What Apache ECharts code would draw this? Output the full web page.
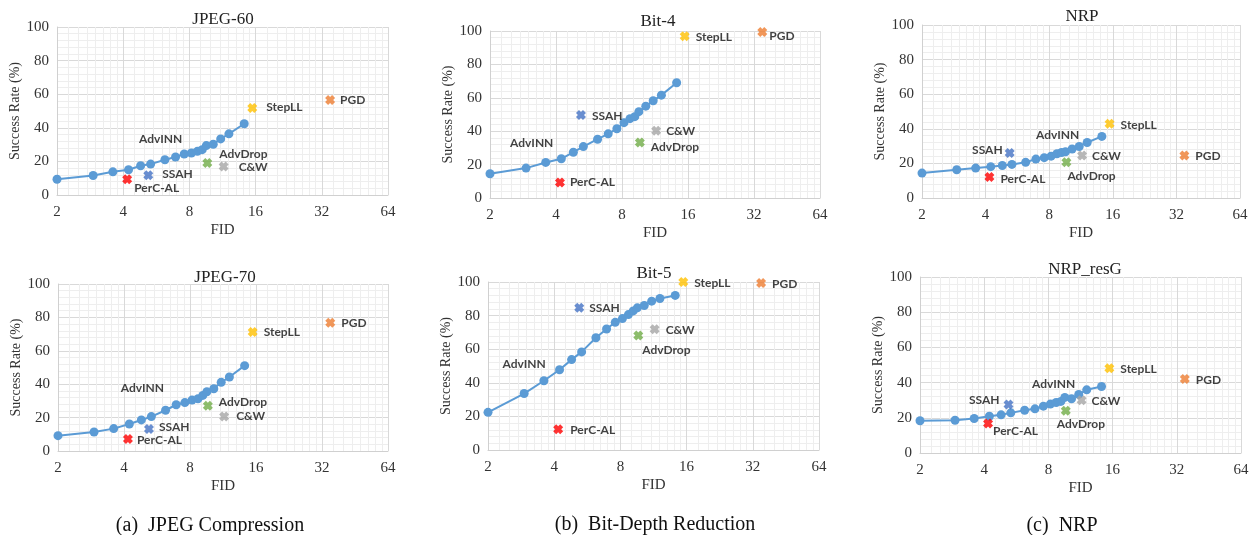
<!DOCTYPE html>
<html>
<head>
<meta charset="utf-8">
<script src="https://cdn.jsdelivr.net/npm/echarts@6/dist/echarts.min.js"></script>
<style>
  html, body { margin: 0; padding: 0; background: #fff; }
  #chart { width: 1256px; height: 535px; }
</style>
</head>
<body>
<div id="chart"></div>
<script>
// ---- data ----
const panelTitles = ['JPEG-60', 'JPEG-70', 'Bit-4', 'Bit-5', 'NRP', 'NRP_resG'];
const xTicks = [2, 4, 8, 16, 32, 64];
const captions = ['(a)  JPEG Compression', '(b)  Bit-Depth Reduction', '(c)  NRP'];

// AdvINN curve: FID of each point (same for every defense)
const advinnFid = [2, 2.92, 3.59, 4.23, 4.8, 5.33, 6.19, 6.92, 7.58, 8.17, 8.7, 9.15, 9.55, 10.27, 11.1, 12.1, 14.2];
const advinnJpeg60 = [9.4, 11.6, 13.8, 15, 17.4, 18.4, 21, 22.6, 24.4, 25, 26, 27, 29.4, 30.2, 33.4, 36.4, 42.4];
const advinnJpeg70 = [9.2, 11.4, 13.4, 16.2, 18.6, 20.6, 24.4, 27.7, 29, 30.5, 31.3, 33.3, 35.5, 37.3, 41.1, 44.3, 51.1];
const advinnBit4 = [14.5, 17.9, 21.3, 23.5, 27.4, 30.8, 35.2, 38.4, 41.5, 45.1, 47.5, 48.7, 51.7, 55, 58.2, 61.6, 69];
const advinnBit5 = [22.4, 33.6, 41.2, 47.8, 53.8, 58.4, 66.8, 72, 76, 78.2, 80.6, 82.8, 84.6, 86, 88.6, 90.2, 92];
const advinnNrp = [14.4, 16.3, 17.3, 18.1, 18.8, 19.4, 20.6, 22.5, 23.3, 24.2, 25.6, 26.3, 26.7, 28.3, 29.8, 32.1, 35.6];
const advinnNrpResG = [18.3, 18.6, 19.6, 20.9, 21.7, 22.8, 24.3, 25.1, 26.6, 27.8, 28.7, 29.3, 31.6, 30.8, 33.3, 35.9, 37.8];

// other attacks: one point each
const methodNames = ['PerC-AL', 'SSAH', 'AdvDrop', 'C&W', 'StepLL', 'PGD'];
const methodFid = [4.17, 5.2, 9.65, 11.45, 15.45, 34.9];
const methodJpeg60 = [9.4, 11.8, 19, 17, 51.8, 56.6];
const methodJpeg70 = [7.2, 13.2, 27.1, 20.6, 71.3, 76.8];
const methodBit4 = [9.3, 49.7, 33.2, 40.2, 96.8, 99.4];
const methodBit5 = [12.3, 84.6, 68.1, 71.9, 100, 99.4];
const methodNrp = [12.1, 26, 20.6, 24.6, 42.9, 24.6];
const methodNrpResG = [16.7, 27.6, 24, 30, 48.1, 42];

const advinnRates = [advinnJpeg60, advinnJpeg70, advinnBit4, advinnBit5, advinnNrp, advinnNrpResG];
const methodRates = [methodJpeg60, methodJpeg70, methodBit4, methodBit5, methodNrp, methodNrpResG];

// ---- layout / style ----
const grids = [
  { left: 57, top: 27, width: 331, height: 168 },
  { left: 58, top: 284, width: 330, height: 167 },
  { left: 490, top: 31, width: 330, height: 167 },
  { left: 488, top: 282, width: 331, height: 168 },
  { left: 922, top: 25, width: 318, height: 173 },
  { left: 920, top: 277, width: 321, height: 176 }
];
const titlePos = [[218, 6], [220, 264], [653, 8], [649, 260], [1077, 3], [1080, 256]];
const captionPos = [[205, 511], [650, 510], [1057, 511]];
// where the "AdvINN" text sits, in data units of each panel
const advinnTextAt = [[5.92, 33.4], [4.85, 37.5], [3.1, 32.8], [2.92, 51.1], [8.77, 36.5], [8.47, 39.2]];
// per panel, per method: [side, dx, dy]
const labelPlace = [
  [['right', 2, 9], ['right', 9, -1], ['right', 7, -9], ['right', 10, 1], ['right', 9, -1], ['right', 5, 0]],
  [['right', 4, 1], ['right', 5, -2], ['right', 6, -4], ['right', 7, 0], ['right', 6, 0], ['right', 6, 0]],
  [['right', 5, 0], ['right', 6, 1], ['right', 6, 5], ['right', 5, 0], ['right', 6, 1], ['right', 2, 4]],
  [['right', 7, 1], ['right', 5, 0], ['right', -1, 15], ['right', 6, 1], ['right', 6, 1], ['right', 6, 1]],
  [['right', 6, 2], ['left', -2, -3], ['right', -4, 14], ['right', 5, 1], ['right', 6, 1], ['right', 6, 1]],
  [['right', 0, 8], ['left', -4, -4], ['right', -14, 13], ['right', 5, 1], ['right', 6, 1], ['right', 6, 1]]
];
const methodColors = ['#FF0000', '#4472C4', '#70AD47', '#A5A5A5', '#FFC000', '#ED7D31'];
const lineBlue = '#5B9BD5';
const serif = '"Liberation Serif", "DejaVu Serif", serif';
const sans = 'Lato, "Open Sans", sans-serif';
// chunky "x" like the spreadsheet marker
const crossPath = 'path://M0,3 L3,0 L5,2 L7,0 L10,3 L8,5 L10,7 L7,10 L5,8 L3,10 L0,7 L2,5 Z';

const chart = echarts.init(document.getElementById('chart'));

const title = panelTitles.map((t, i) => ({
  text: t, left: titlePos[i][0], top: titlePos[i][1], textAlign: 'center',
  textStyle: { fontFamily: serif, fontSize: 17, fontWeight: 'normal', color: '#222' }
})).concat(captions.map((c, i) => ({
  text: c, left: captionPos[i][0], top: captionPos[i][1], textAlign: 'center',
  textStyle: { fontFamily: serif, fontSize: 20, fontWeight: 'normal', color: '#111' }
})));

const xAxis = grids.map((g, i) => ({
  type: 'log', logBase: 2, min: xTicks[0], max: xTicks[xTicks.length - 1], gridIndex: i,
  splitNumber: xTicks.length - 1,
  name: 'FID', nameLocation: 'middle', nameGap: 28,
  nameTextStyle: { fontFamily: serif, fontSize: 15, color: '#333' },
  axisLine: { show: true, lineStyle: { color: '#d0d0d0', width: 1 } },
  axisTick: { show: false },
  axisLabel: { fontFamily: serif, fontSize: 15, color: '#333', margin: 10 },
  splitLine: { show: true, lineStyle: { color: '#d9d9d9', width: 1 } },
  minorTick: { show: false, splitNumber: 8 },
  minorSplitLine: { show: true, lineStyle: { color: '#eeeeee', width: 1 } }
}));

const yAxis = grids.map((g, i) => ({
  type: 'value', min: 0, max: 100, interval: 20, gridIndex: i,
  name: 'Success Rate (%)', nameLocation: 'middle', nameGap: 34,
  nameTextStyle: { fontFamily: serif, fontSize: 14, color: '#333' },
  axisLine: { show: true, lineStyle: { color: '#d0d0d0', width: 1 } },
  axisTick: { show: false },
  axisLabel: { fontFamily: serif, fontSize: 15, color: '#333', margin: 8 },
  splitLine: { show: true, lineStyle: { color: '#d9d9d9', width: 1 } },
  minorTick: { show: false, splitNumber: 5 },
  minorSplitLine: { show: true, lineStyle: { color: '#eeeeee', width: 1 } }
}));

const series = [];
grids.forEach((g, i) => {
  series.push({
    type: 'line', xAxisIndex: i, yAxisIndex: i,
    data: advinnFid.map((f, k) => [f, advinnRates[i][k]]),
    symbol: 'circle', symbolSize: 9,
    lineStyle: { color: lineBlue, width: 2 },
    itemStyle: { color: lineBlue },
    z: 3
  });
  series.push({
    type: 'scatter', xAxisIndex: i, yAxisIndex: i, clip: false,
    symbol: crossPath, symbolSize: 10,
    data: methodNames.map((m, k) => ({
      name: m,
      value: [methodFid[k], methodRates[i][k]],
      itemStyle: { color: methodColors[k] },
      label: {
        show: true, formatter: m,
        position: labelPlace[i][k][0], distance: 0,
        offset: [labelPlace[i][k][1], labelPlace[i][k][2]]
      }
    })),
    label: { fontFamily: sans, fontSize: 12, fontWeight: 'bold', color: '#111' },
    z: 4
  });
  series.push({
    type: 'scatter', xAxisIndex: i, yAxisIndex: i, clip: false,
    symbolSize: 1, itemStyle: { color: 'rgba(0,0,0,0)' },
    data: [{ value: advinnTextAt[i] }],
    label: {
      show: true, formatter: 'AdvINN', position: 'inside',
      fontFamily: sans, fontSize: 12, fontWeight: 'bold', color: '#111'
    },
    z: 4
  });
});

chart.setOption({
  animation: false,
  backgroundColor: '#fff',
  title: title,
  grid: grids,
  xAxis: xAxis,
  yAxis: yAxis,
  series: series
});
</script>
</body>
</html>
